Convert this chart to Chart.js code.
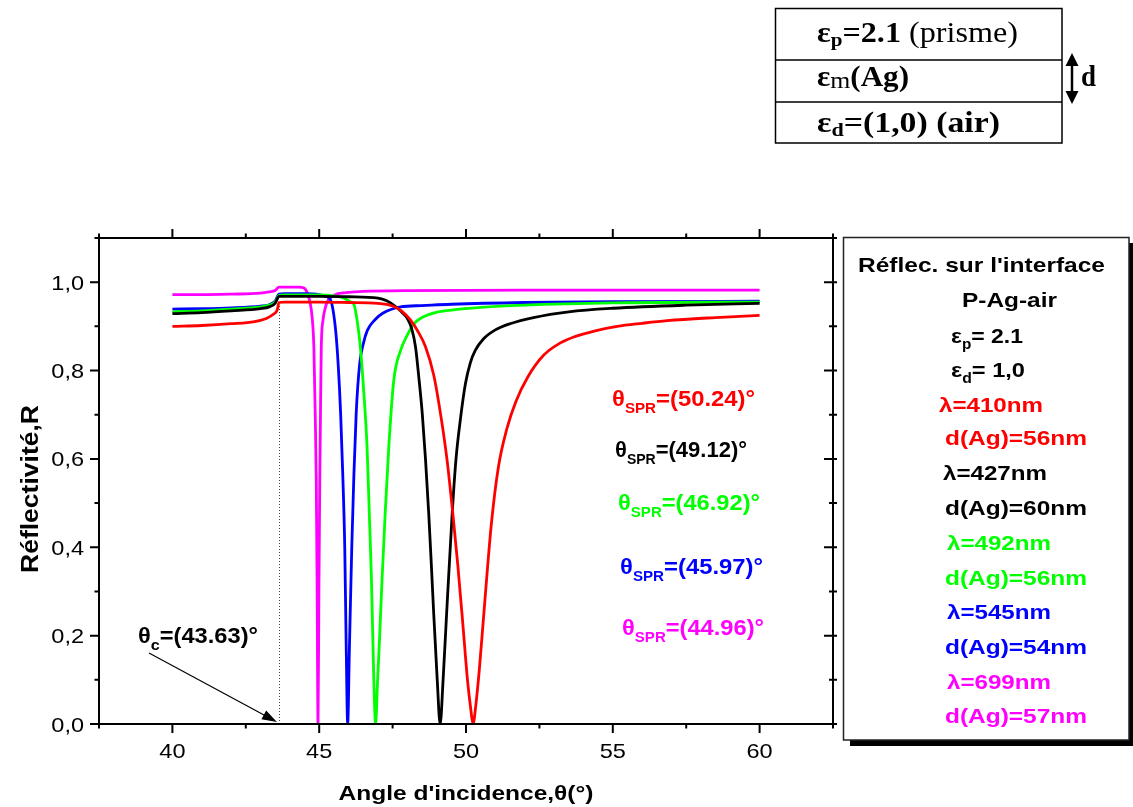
<!DOCTYPE html>
<html>
<head>
<meta charset="utf-8">
<script src="https://cdn.jsdelivr.net/npm/chart.js@4/dist/chart.umd.min.js"></script>
<style>
  html, body { margin: 0; padding: 0; background: #ffffff; overflow: hidden; }
  #wrap { position: relative; width: 1133px; height: 807px; }
  canvas { display: block; }
</style>
</head>
<body>
<div id="wrap"><canvas id="chart" width="1133" height="807"></canvas></div>
<script>
// Reflectivity R(theta) of the prism / Ag / air interface for five wavelengths.
const angle410 = [40, 41, 42, 42.8, 43.2, 43.45, 43.57, 43.63, 43.8, 45, 46, 47, 47.5, 47.8, 48.1, 48.35, 48.62, 48.9, 49.13, 49.35, 49.55, 49.72, 49.9, 50.05, 50.16, 50.24, 50.33, 50.45, 50.62, 50.86, 51.1, 51.4, 51.7, 52.1, 52.65, 53.2, 53.67, 54.4, 55.15, 56, 56.85, 58.5, 60];
const refl410  = [0.900, 0.902, 0.906, 0.911, 0.918, 0.928, 0.937, 0.954, 0.955, 0.955, 0.954, 0.952, 0.946, 0.935, 0.915, 0.89, 0.854, 0.79, 0.703, 0.6, 0.477, 0.36, 0.22, 0.1, 0.035, 0.0, 0.04, 0.12, 0.26, 0.45, 0.58, 0.67, 0.73, 0.785, 0.835, 0.862, 0.876, 0.89, 0.9, 0.907, 0.913, 0.92, 0.925];

const angle427 = [40, 41, 42, 43, 43.3, 43.5, 43.63, 43.8, 45, 46, 47, 47.3, 47.6, 47.8, 48.0, 48.15, 48.28, 48.4, 48.51, 48.62, 48.73, 48.82, 48.9, 49.02, 49.12, 49.22, 49.34, 49.53, 49.66, 49.81, 49.98, 50.15, 50.32, 50.6, 51.0, 51.5, 52.3, 53.5, 55, 57.5, 60];
const refl427  = [0.929, 0.931, 0.935, 0.94, 0.944, 0.952, 0.968, 0.968, 0.968, 0.967, 0.964, 0.958, 0.945, 0.933, 0.918, 0.895, 0.854, 0.78, 0.703, 0.6, 0.477, 0.36, 0.25, 0.1, 0.0, 0.1, 0.25, 0.477, 0.6, 0.69, 0.77, 0.818, 0.846, 0.872, 0.892, 0.906, 0.92, 0.933, 0.941, 0.948, 0.952];

const angle492 = [40, 41, 42, 43, 43.3, 43.5, 43.63, 43.8, 45, 45.5, 45.8, 45.95, 46.08, 46.18, 46.3, 46.4, 46.52, 46.63, 46.72, 46.78, 46.86, 46.92, 46.99, 47.06, 47.14, 47.25, 47.37, 47.54, 47.77, 48.0, 48.22, 48.5, 49.0, 49.5, 50.5, 52, 55, 60];
const refl492  = [0.933, 0.935, 0.939, 0.944, 0.948, 0.955, 0.970, 0.971, 0.971, 0.969, 0.965, 0.96, 0.955, 0.95, 0.91, 0.854, 0.75, 0.627, 0.45, 0.326, 0.1, 0.0, 0.1, 0.2, 0.326, 0.48, 0.627, 0.778, 0.845, 0.88, 0.905, 0.92, 0.932, 0.937, 0.943, 0.948, 0.953, 0.955];

const angle545 = [40, 41, 42, 43, 43.3, 43.5, 43.63, 43.8, 44.5, 45.0, 45.22, 45.39, 45.56, 45.65, 45.73, 45.8, 45.87, 45.92, 45.97, 46.03, 46.11, 46.18, 46.26, 46.38, 46.5, 46.64, 46.9, 47.15, 47.77, 48.5, 49.5, 52, 55, 60];
const refl545  = [0.939, 0.940, 0.942, 0.946, 0.949, 0.957, 0.973, 0.974, 0.974, 0.972, 0.968, 0.959, 0.891, 0.81, 0.703, 0.57, 0.401, 0.175, 0.0, 0.175, 0.401, 0.56, 0.703, 0.816, 0.86, 0.891, 0.915, 0.929, 0.944, 0.947, 0.95, 0.954, 0.956, 0.957];

const angle699 = [40, 41, 42, 43, 43.3, 43.5, 43.63, 43.8, 44.3, 44.48, 44.6, 44.7, 44.76, 44.82, 44.87, 44.9, 44.93, 44.96, 44.99, 45.02, 45.04, 45.07, 45.13, 45.2, 45.3, 45.45, 45.64, 46.0, 46.5, 48, 52, 56, 60];
const refl699  = [0.972, 0.972, 0.973, 0.975, 0.978, 0.981, 0.989, 0.989, 0.989, 0.987, 0.975, 0.95, 0.92, 0.85, 0.68, 0.55, 0.3, 0.0, 0.3, 0.55, 0.68, 0.85, 0.914, 0.94, 0.959, 0.968, 0.974, 0.977, 0.979, 0.981, 0.982, 0.982, 0.982];

const wavelengths  = [410, 427, 492, 545, 699];
const thicknesses  = [56, 60, 56, 54, 57];
const sprAngles    = [50.24, 49.12, 46.92, 45.97, 44.96];
const criticalAngle = 43.63;
const seriesColors = ['#ff0000', '#000000', '#00ff00', '#0000ff', '#ff00ff'];

const xMajorTicks = [40, 45, 50, 55, 60];
const xMinorTicks = [37.5, 42.5, 47.5, 52.5, 57.5, 62.5];
const yMajorTicks = [0, 0.2, 0.4, 0.6, 0.8, 1.0];
const yMinorTicks = [0.1, 0.3, 0.5, 0.7, 0.9, 1.1];
const yTickText   = ['0,0', '0,2', '0,4', '0,6', '0,8', '1,0'];

const angleSets = [angle410, angle427, angle492, angle545, angle699];
const reflSets  = [refl410, refl427, refl492, refl545, refl699];

const SANS  = '"Liberation Sans", Arial, Helvetica, sans-serif';
const SERIF = '"Liberation Serif", "Times New Roman", Times, serif';
const SX = 1.12; // glyphs in this figure run a little wide

// Draw a run of text segments (for subscripts) with optional target width.
function rich(ctx, segs, x, y, opt) {
  opt = opt || {};
  let W = 0;
  const ws = segs.map(s => { ctx.font = s.font; const w = ctx.measureText(s.t).width; W += w; return w; });
  const sx = opt.width ? opt.width / W : (opt.sx || SX);
  ctx.save();
  ctx.translate(x, y);
  ctx.scale(sx, 1);
  let cx = opt.align === 'center' ? -W / 2 : (opt.align === 'right' ? -W : 0);
  ctx.textBaseline = 'alphabetic';
  ctx.textAlign = 'left';
  segs.forEach((s, i) => {
    ctx.font = s.font;
    ctx.fillStyle = s.color || opt.color || '#000';
    ctx.fillText(s.t, cx, s.dy || 0);
    cx += ws[i];
  });
  ctx.restore();
}

const figurePlugin = {
  id: 'figureDecor',
  beforeDatasetsDraw(chart) {
    const ctx = chart.ctx, xs = chart.scales.x, ys = chart.scales.y;
    // dotted guide at the critical angle
    const xc = xs.getPixelForValue(criticalAngle);
    ctx.save();
    ctx.strokeStyle = '#444';
    ctx.lineWidth = 1;
    ctx.setLineDash([1, 2]);
    ctx.beginPath();
    ctx.moveTo(Math.round(xc) + 0.5, ys.getPixelForValue(0));
    ctx.lineTo(Math.round(xc) + 0.5, ys.getPixelForValue(0.948));
    ctx.stroke();
    ctx.restore();
  },
  afterDraw(chart) {
    const ctx = chart.ctx, xs = chart.scales.x, ys = chart.scales.y;
    const a = chart.chartArea;
    ctx.save();

    // frame
    ctx.strokeStyle = '#000';
    ctx.lineWidth = 2;
    ctx.strokeRect(a.left, a.top, a.right - a.left, a.bottom - a.top);

    // ticks on all four sides
    ctx.beginPath();
    const xt = (v, maj) => {
      const p = xs.getPixelForValue(v), L = maj ? 9 : 4.5;
      ctx.moveTo(p, a.bottom); ctx.lineTo(p, a.bottom + L);
      ctx.moveTo(p, a.top); ctx.lineTo(p, a.top - L);
    };
    const yt = (v, maj) => {
      const p = ys.getPixelForValue(v), L = maj ? 9 : 4.5;
      ctx.moveTo(a.left, p); ctx.lineTo(a.left - L, p);
      ctx.moveTo(a.right - (maj ? 9 : 4), p); ctx.lineTo(a.right + 4, p);
    };
    xMajorTicks.forEach(v => xt(v, true));
    xMinorTicks.forEach(v => xt(v, false));
    yMajorTicks.forEach(v => yt(v, true));
    yMinorTicks.forEach(v => yt(v, false));
    ctx.stroke();

    // tick labels
    const tickFont = '21px ' + SANS;
    xMajorTicks.forEach(v => {
      rich(ctx, [{ t: String(v), font: tickFont }], xs.getPixelForValue(v), 758, { align: 'center' });
    });
    yMajorTicks.forEach((v, i) => {
      rich(ctx, [{ t: yTickText[i], font: tickFont }], 84, ys.getPixelForValue(v) + 7.5, { align: 'right' });
    });

    // axis titles
    const titleFont = 'bold 21px ' + SANS;
    rich(ctx, [{ t: "Angle d'incidence,θ(°)", font: titleFont }], (a.left + a.right) / 2, 800, { align: 'center', width: 255 });
    ctx.save();
    ctx.font = 'bold 22px ' + SANS;
    const yTitle = 'Réflectivité,R';
    const yLen = ctx.measureText(yTitle).width;
    ctx.translate(38, 489);
    ctx.scale(SX, 1);
    ctx.rotate(-Math.PI / 2);
    ctx.scale(168 / yLen, 1);
    ctx.fillStyle = '#000';
    ctx.textAlign = 'center';
    ctx.textBaseline = 'alphabetic';
    ctx.fillText(yTitle, 0, 0);
    ctx.restore();

    // SPR angle annotations
    const sprPos = [[612, 406, 143], [615, 457, 132], [618, 510, 142], [620, 574, 143], [622, 635, 142]];
    const big = 'bold 22px ' + SANS, sub = 'bold 14px ' + SANS;
    sprAngles.forEach((v, i) => {
      const [x, y, w] = sprPos[i];
      rich(ctx, [
        { t: 'θ', font: big },
        { t: 'SPR', font: sub, dy: 7 },
        { t: '=(' + v.toFixed(2) + ')°', font: big }
      ], x, y, { width: w, color: seriesColors[i] });
    });

    // critical angle annotation with arrow
    rich(ctx, [
      { t: 'θ', font: big },
      { t: 'c', font: 'bold 15px ' + SANS, dy: 7 },
      { t: '=(' + criticalAngle.toFixed(2) + ')°', font: big }
    ], 138, 643, { width: 120, color: '#000' });
    const ax = xs.getPixelForValue(criticalAngle) - 2, ay = ys.getPixelForValue(0) - 2;
    const sx0 = 149, sy0 = 653;
    const ang = Math.atan2(ay - sy0, ax - sx0);
    ctx.strokeStyle = '#000';
    ctx.lineWidth = 1.2;
    ctx.beginPath();
    ctx.moveTo(sx0, sy0);
    ctx.lineTo(ax - 10 * Math.cos(ang), ay - 10 * Math.sin(ang));
    ctx.stroke();
    ctx.fillStyle = '#000';
    ctx.beginPath();
    ctx.moveTo(ax, ay);
    ctx.lineTo(ax - 15 * Math.cos(ang) + 5 * Math.sin(ang), ay - 15 * Math.sin(ang) - 5 * Math.cos(ang));
    ctx.lineTo(ax - 15 * Math.cos(ang) - 5 * Math.sin(ang), ay - 15 * Math.sin(ang) + 5 * Math.cos(ang));
    ctx.closePath();
    ctx.fill();

    // side legend box with shadow
    ctx.fillStyle = '#000';
    ctx.fillRect(850, 740, 283, 6);
    ctx.fillRect(1129, 243, 5, 503);
    ctx.fillStyle = '#fff';
    ctx.fillRect(843, 237, 286, 503);
    ctx.strokeStyle = '#222';
    ctx.lineWidth = 1.5;
    ctx.strokeRect(843.5, 237.5, 285.5, 502.5);

    const lf = 'bold 21px ' + SANS, ls = 'bold 14px ' + SANS;
    rich(ctx, [{ t: "Réflec. sur l'interface", font: lf }], 858, 272, { width: 247 });
    rich(ctx, [{ t: 'P-Ag-air', font: lf }], 962, 307, { width: 95 });
    rich(ctx, [{ t: 'ε', font: lf }, { t: 'p', font: ls, dy: 6 }, { t: '= 2.1', font: lf }], 951, 343, { width: 72 });
    rich(ctx, [{ t: 'ε', font: lf }, { t: 'd', font: ls, dy: 6 }, { t: '= 1,0', font: lf }], 951, 377, { width: 74 });
    const lamX = [939, 943, 947, 947, 947];
    const lamY = [412, 480, 550, 619, 689];
    const dY   = [445, 515, 585, 654, 723];
    wavelengths.forEach((lam, i) => {
      rich(ctx, [{ t: 'λ=' + lam + 'nm', font: lf }], lamX[i], lamY[i], { width: 104, color: seriesColors[i] });
      rich(ctx, [{ t: 'd(Ag)=' + thicknesses[i] + 'nm', font: lf }], 945, dY[i], { width: 142, color: seriesColors[i] });
    });

    // layer sketch: prism / silver film / air
    ctx.strokeStyle = '#000';
    ctx.lineWidth = 1.5;
    ctx.strokeRect(775.5, 8.5, 286.5, 134.5);
    ctx.beginPath();
    ctx.moveTo(775, 60); ctx.lineTo(1062, 60);
    ctx.moveTo(775, 102); ctx.lineTo(1062, 102);
    ctx.stroke();
    const tb = 'bold 29px ' + SERIF, tr = '29px ' + SERIF, tsb = 'bold 19px ' + SERIF;
    rich(ctx, [{ t: 'ε', font: tb }, { t: 'p', font: tsb, dy: 4 }, { t: '=2.1', font: tb }, { t: ' (prisme)', font: tr }], 817, 42, { width: 201 });
    rich(ctx, [{ t: 'ε', font: tb }, { t: 'm', font: '24px ' + SERIF, dy: 2 }, { t: '(Ag)', font: tb }], 817, 86, { width: 92 });
    rich(ctx, [{ t: 'ε', font: tb }, { t: 'd', font: tsb, dy: 4 }, { t: '=(1,0) (air)', font: tb }], 817, 132, { width: 183 });

    // thickness arrow
    ctx.lineWidth = 2.5;
    ctx.beginPath();
    ctx.moveTo(1072, 62); ctx.lineTo(1072, 95);
    ctx.stroke();
    ctx.fillStyle = '#000';
    ctx.beginPath();
    ctx.moveTo(1072, 53); ctx.lineTo(1065.5, 66); ctx.lineTo(1078.5, 66); ctx.closePath();
    ctx.moveTo(1072, 104); ctx.lineTo(1065.5, 91); ctx.lineTo(1078.5, 91); ctx.closePath();
    ctx.fill();
    rich(ctx, [{ t: 'd', font: tb }], 1081, 86, { width: 15 });

    ctx.restore();
  }
};

const datasets = angleSets.map((angles, i) => ({
  label: 'λ=' + wavelengths[i] + 'nm',
  data: angles.map((a, k) => ({ x: a, y: reflSets[i][k] })),
  borderColor: seriesColors[i],
  backgroundColor: seriesColors[i],
  borderWidth: 2.8,
  pointRadius: 0,
  fill: false,
  cubicInterpolationMode: 'monotone'
}));

new Chart(document.getElementById('chart'), {
  type: 'line',
  data: { datasets },
  options: {
    responsive: false,
    animation: false,
    devicePixelRatio: 1,
    layout: { padding: { left: 0, right: 300, top: 238, bottom: 0 } },
    plugins: { legend: { display: false }, tooltip: { enabled: false } },
    scales: {
      x: {
        type: 'linear', min: 37.5, max: 62.5,
        ticks: { display: false }, grid: { display: false }, border: { display: false },
        afterFit: s => { s.height = 83; }
      },
      y: {
        type: 'linear', min: 0, max: 1.1,
        ticks: { display: false }, grid: { display: false }, border: { display: false },
        afterFit: s => { s.width = 99; }
      }
    }
  },
  plugins: [figurePlugin]
});
</script>
</body>
</html>
